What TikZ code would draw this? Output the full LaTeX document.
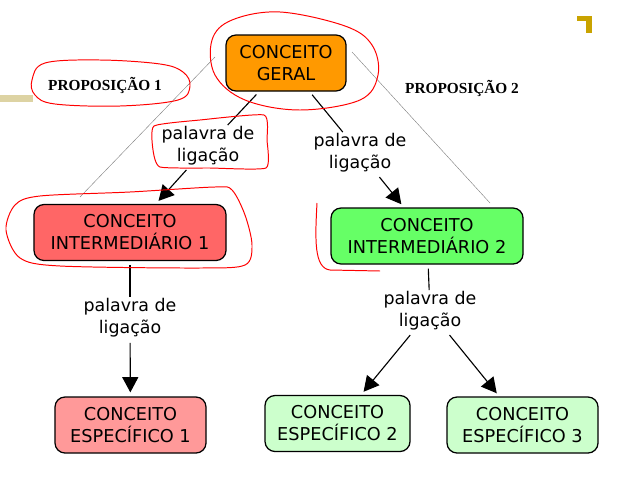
\documentclass[tikz,border=0pt]{standalone}
\usepackage{fontspec}
\setmainfont{DejaVu Sans}
\newfontfamily\propfont{Liberation Serif}
\usetikzlibrary{arrows.meta}
\definecolor{geral}{HTML}{FF9900}
\definecolor{inter1}{HTML}{FF6666}
\definecolor{inter2}{HTML}{66FF66}
\definecolor{espec1}{HTML}{FF9999}
\definecolor{espec2}{HTML}{CCFFCC}
\definecolor{faixa}{HTML}{DDD3A3}
\definecolor{ouro}{HTML}{C9A300}
\begin{document}
\begin{tikzpicture}[x=0.25mm, y=-0.25mm,
  conceito/.style={draw, line width=0.9pt, rounded corners=2.5mm, align=center, inner sep=0pt, minimum height=14mm, font=\fontsize{12.6}{15.6}\selectfont},
  ligacao/.style={align=center, inner sep=1pt, font=\fontsize{12.4}{15.4}\selectfont},
  proposicao/.style={inner sep=1pt, font=\propfont\bfseries\fontsize{10.9}{13}\selectfont},
  risco/.style={red, line width=0.7pt},
  guia/.style={gray, line width=0.3pt},
  >={Triangle[length=3.8mm,width=4mm]}]

\useasboundingbox (0,0) rectangle (640,480);

% decoracao
\fill[faixa] (0,95) rectangle (33,102);
\fill[ouro] (577,16) rectangle (592,21);
\fill[ouro] (586,16) rectangle (592,33);

% guias
\draw[guia] (215,57) -- (80,197);
\draw[guia] (352,52) -- (490,203);

\node[conceito, fill=geral, minimum width=30mm] (g) at (286,63) {CONCEITO\\GERAL};
\node[conceito, fill=inter1, minimum width=48mm] (i1) at (130,232.5) {CONCEITO\\INTERMEDIÁRIO 1};
\node[conceito, fill=inter2, minimum width=48mm] (i2) at (427,236) {CONCEITO\\INTERMEDIÁRIO 2};
\node[conceito, fill=espec1, minimum width=37.75mm] (e1) at (130.5,425) {CONCEITO\\ESPECÍFICO 1};
\node[conceito, fill=espec2, minimum width=36.25mm] (e2) at (337.5,423.5) {CONCEITO\\ESPECÍFICO 2};
\node[conceito, fill=espec2, minimum width=37.75mm] (e3) at (522.5,425) {CONCEITO\\ESPECÍFICO 3};

\node[ligacao] (l1) at (208,146) {palavra de\\ligação};
\node[ligacao] (l2) at (360,153) {palavra de\\ligação};
\node[ligacao] (l3) at (130,318) {palavra de\\ligação};
\node[ligacao] (l4) at (430,311) {palavra de\\ligação};

\node[proposicao] (p1) at (105,85) {PROPOSIÇÃO 1};
\node[proposicao] (p2) at (462,88) {PROPOSIÇÃO 2};

\begin{scope}[line width=0.8pt, shorten <=1mm]
\draw (g) -- (l1);
\draw (g) -- (l2);
\draw (i1) -- (l3);
\draw (i2) -- (l4);
\draw[->, shorten >=1mm] (l1) -- (i1);
\draw[->, shorten >=1mm] (l2) -- (i2);
\draw[->, shorten >=1mm] (l3) -- (e1);
\draw[->, shorten >=1mm] (l4) -- (e2);
\draw[->, shorten >=1mm] (l4) -- (e3);
\end{scope}

% marcas a mao
\begin{scope}[risco]
\draw plot[smooth cycle, tension=.6] coordinates {(32,80) (45,63) (100,60) (160,64) (183,72) (190,86) (178,100) (120,106) (55,104) (35,95)};
\draw plot[smooth cycle, tension=.6] coordinates {(212,40) (232,20) (280,12) (345,26) (372,45) (378,75) (360,100) (300,110) (245,100) (215,75)};
\draw plot[smooth cycle, tension=.3] coordinates {(154,126) (200,120) (264,115) (267,140) (266,168) (210,168) (160,167) (153,150)};
\draw plot[smooth cycle, tension=.5] coordinates {(6,230) (15,205) (40,196) (130,192) (215,187) (232,190) (245,215) (252,245) (245,265) (200,268) (60,266) (20,258)};
\draw (317,203) .. controls (315,240) and (314,268) .. (330,270) -- (380,271);
\end{scope}
\end{tikzpicture}
\end{document}
